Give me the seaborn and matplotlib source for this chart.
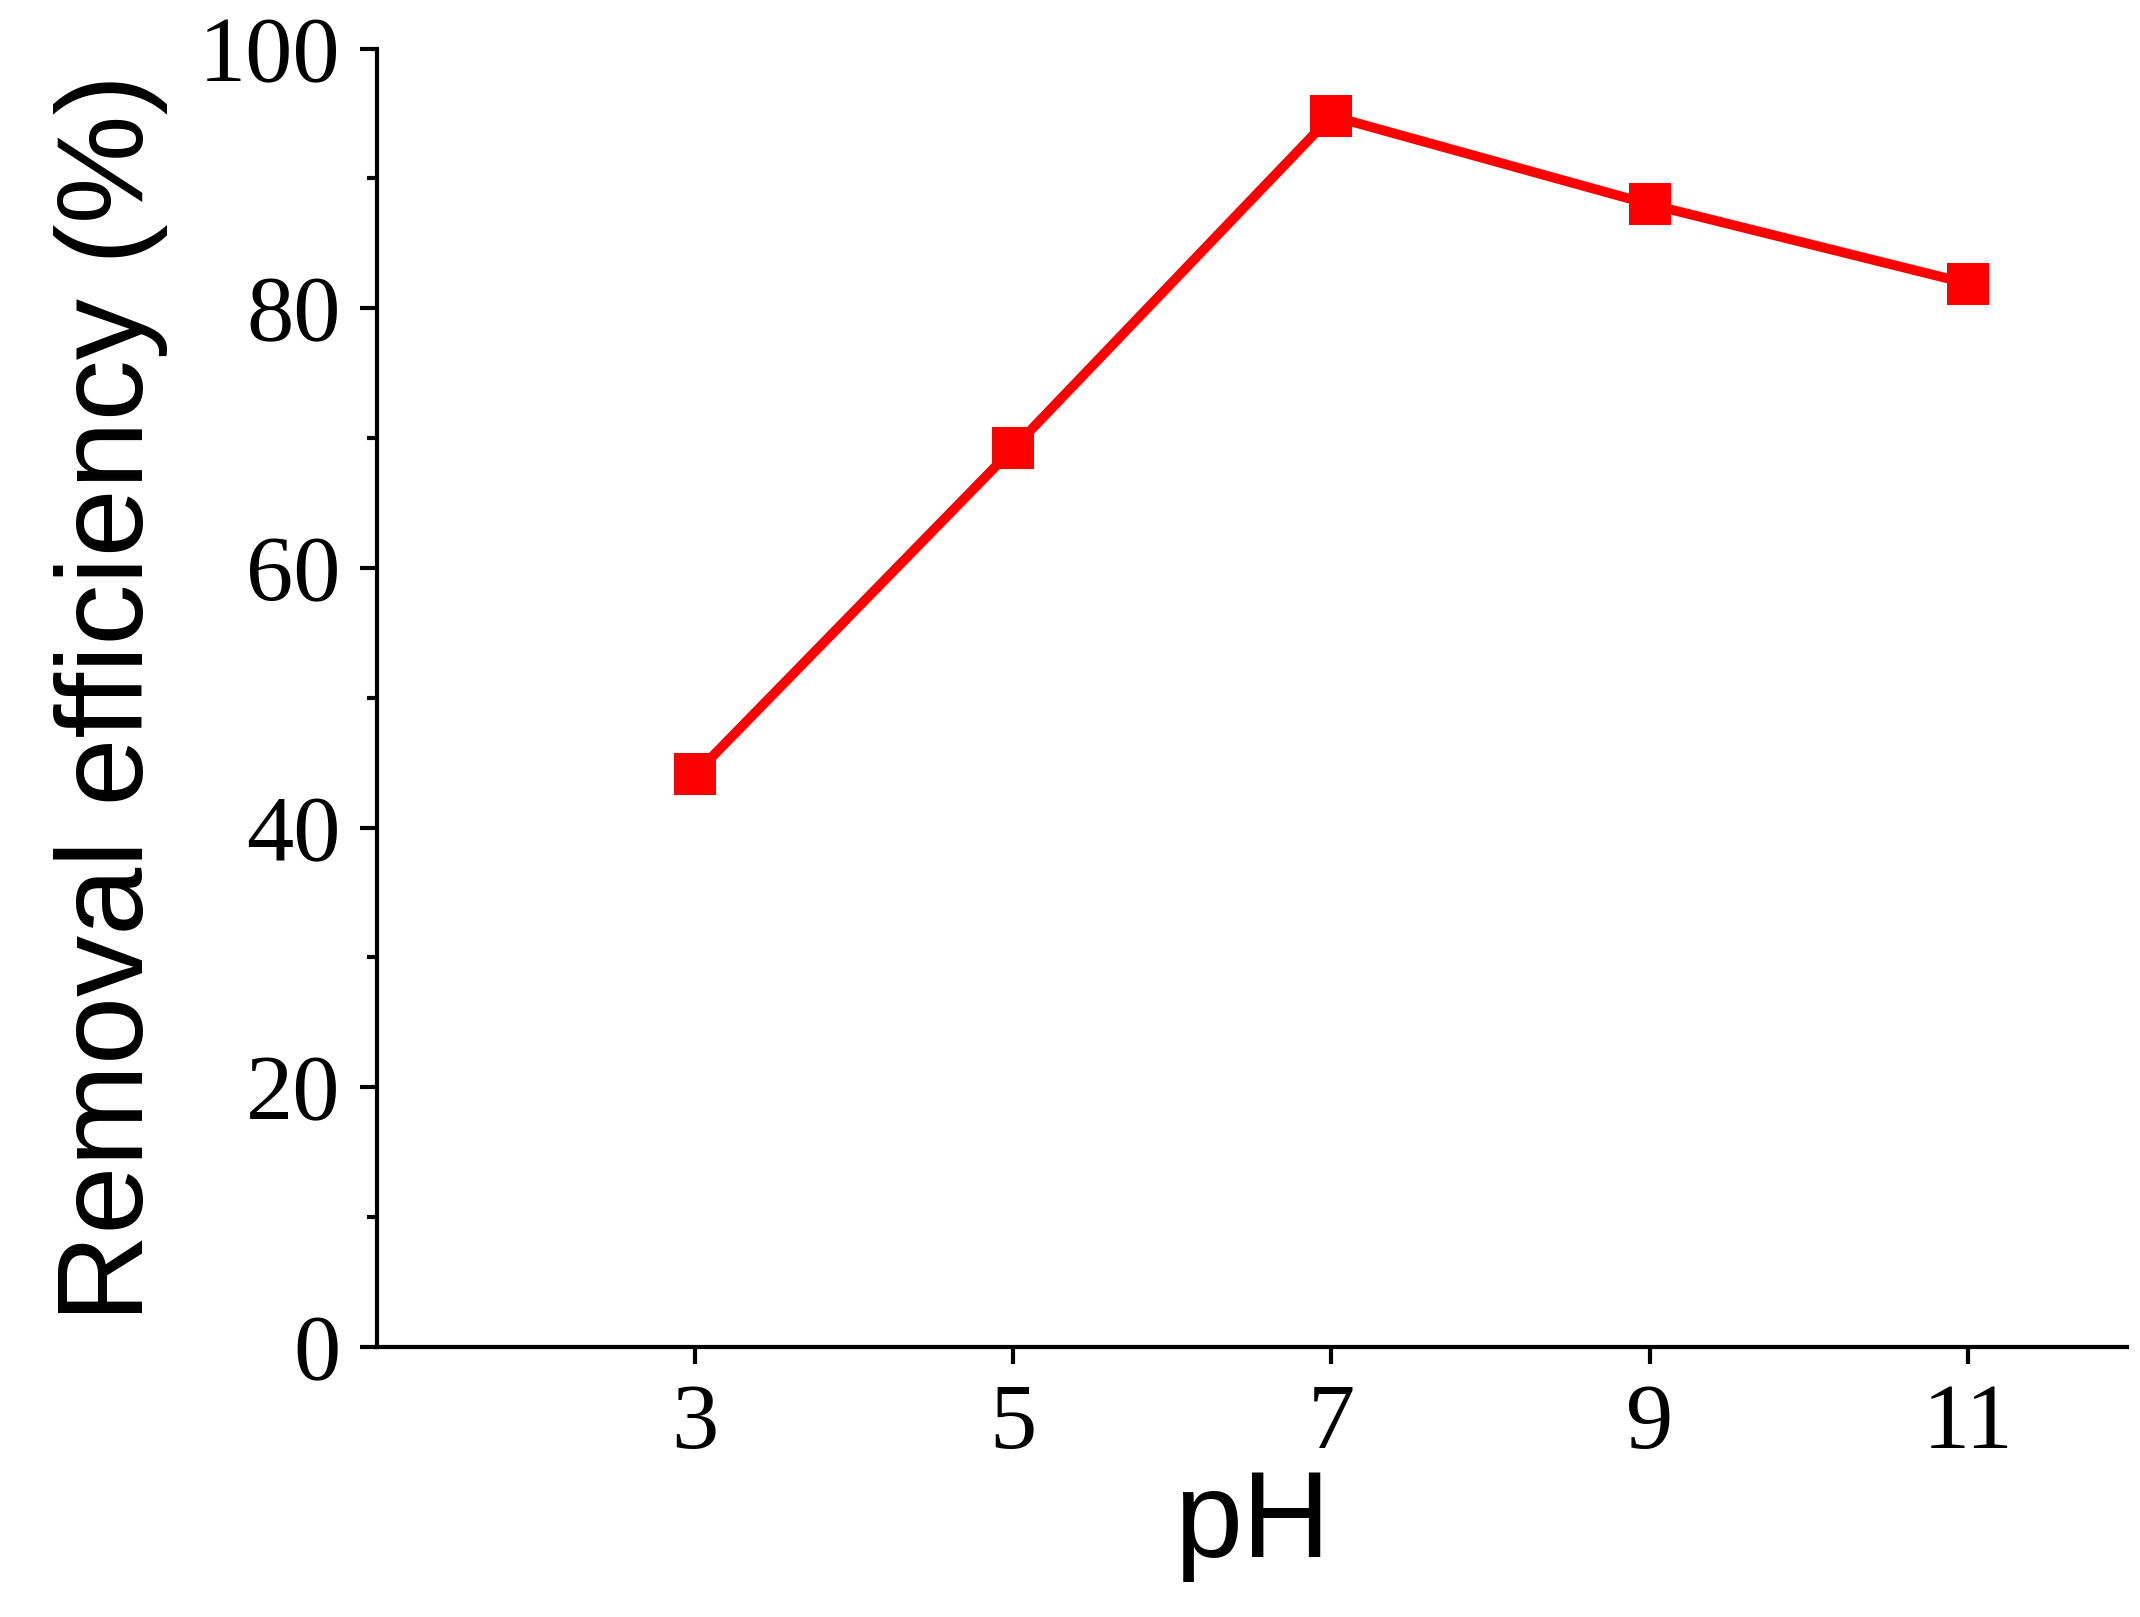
import matplotlib
matplotlib.use("Agg")
import matplotlib.pyplot as plt
import seaborn as sns
import pandas as pd
from matplotlib.ticker import MultipleLocator

ph = [3, 5, 7, 9, 11]
removal = [44.1, 69.2, 94.8, 88.0, 81.9]

sns.set_theme(style="ticks")
df = pd.DataFrame({"pH": ph, "removal": removal})

fig = plt.figure(figsize=(21.4, 16.17), dpi=100)
ax = fig.add_axes([0.176, 0.167, 0.818, 0.803])
sns.lineplot(data=df, x="pH", y="removal", ax=ax, color="#ff0000",
             linewidth=7, marker="s", markersize=30, markeredgewidth=0)

ax.set_xlim(1, 12)
ax.set_ylim(0, 100)
ax.set_xticks(ph)
ax.yaxis.set_major_locator(MultipleLocator(20))
ax.yaxis.set_minor_locator(MultipleLocator(10))
for s in ["top", "right"]:
    ax.spines[s].set_visible(False)
for s in ["left", "bottom"]:
    ax.spines[s].set_linewidth(3)
    ax.spines[s].set_color("black")
ax.tick_params(which="major", direction="out", length=12, width=3,
               labelsize=68, color="black", labelcolor="black", pad=14)
ax.tick_params(which="minor", direction="out", length=7, width=3, color="black")
for lab in ax.get_xticklabels() + ax.get_yticklabels():
    lab.set_fontfamily("Liberation Serif")

ax.set_xlabel("pH", fontsize=88, family="Liberation Sans", color="black", labelpad=0)
ax.set_ylabel("Removal efficiency (%)", fontsize=88, family="Liberation Sans",
              color="black", labelpad=22)

fig.savefig("out.png", dpi=100)
